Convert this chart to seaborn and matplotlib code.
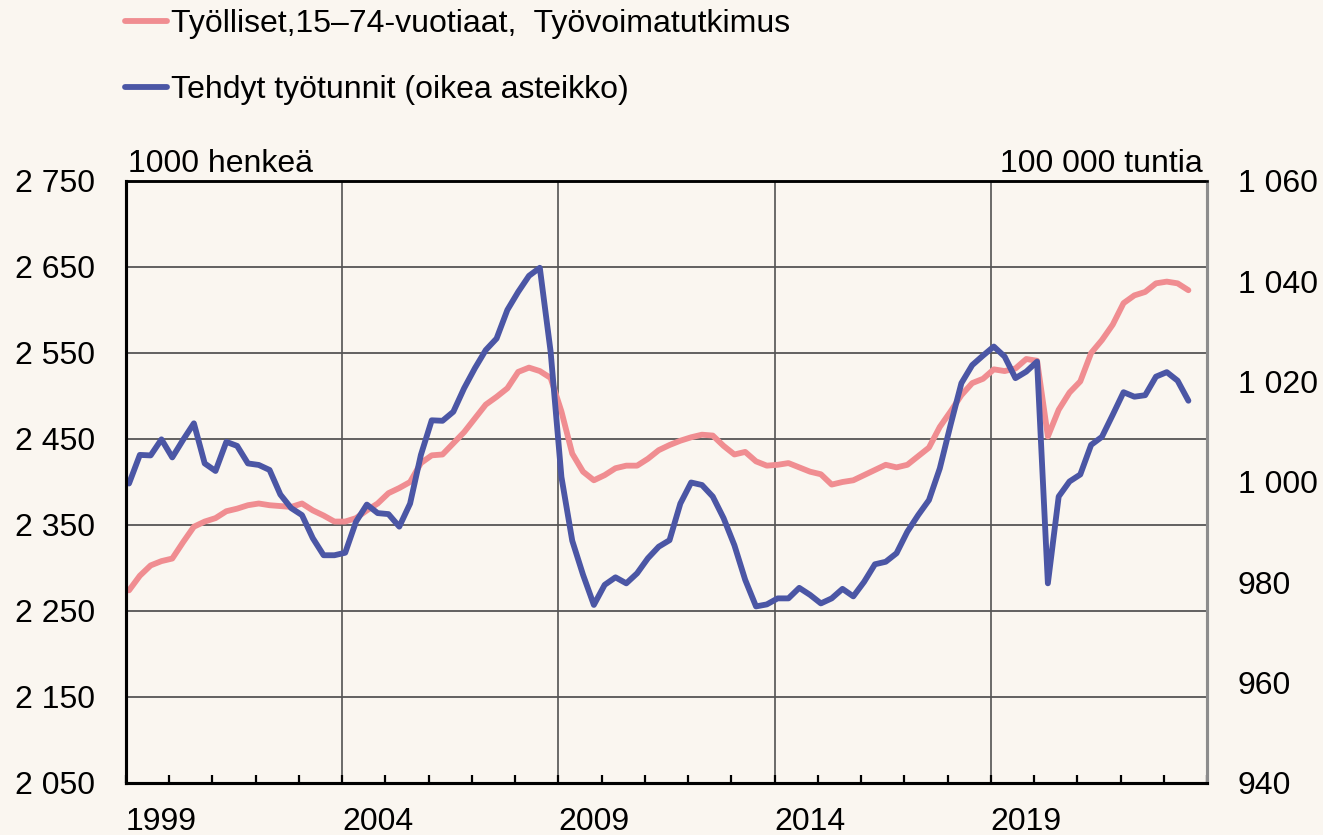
import numpy as np
import pandas as pd
import matplotlib
matplotlib.use("Agg")
import matplotlib.pyplot as plt
import seaborn as sns
from matplotlib.ticker import FuncFormatter, FixedLocator, MultipleLocator

# ---------------- data ----------------
quarters = [f"{y}Q{q}" for y in range(1999, 2024) for q in range(1, 5)][:99]

employed = [
    2274, 2291, 2303, 2308, 2311, 2330, 2348, 2354, 2358, 2366,
    2369, 2373, 2375, 2373, 2372, 2371, 2375, 2367, 2361, 2354,
    2354, 2358, 2367, 2375, 2387, 2393, 2400, 2422, 2431, 2432,
    2445, 2458, 2474, 2490, 2499, 2509, 2528, 2533, 2529, 2521,
    2482, 2433, 2412, 2402, 2408, 2416, 2419, 2419, 2427, 2437,
    2443, 2448, 2452, 2455, 2454, 2442, 2432, 2435, 2424, 2419,
    2420, 2422, 2417, 2412, 2409, 2397, 2400, 2402, 2408, 2414,
    2420, 2417, 2420, 2430, 2440, 2464, 2482, 2501, 2515, 2520,
    2531, 2529, 2532, 2543, 2541, 2453, 2484, 2504, 2517, 2550,
    2565, 2583, 2608, 2617, 2621, 2631, 2633, 2631, 2623,
]

hours = [
    999.7, 1005.4, 1005.3, 1008.5, 1004.9, 1008.4, 1011.7, 1003.7, 1002.2, 1008.0,
    1007.2, 1003.7, 1003.4, 1002.4, 997.5, 994.8, 993.4, 988.8, 985.4, 985.4,
    985.9, 992.1, 995.5, 993.8, 993.6, 991.1, 995.7, 1005.4, 1012.3, 1012.2,
    1014.0, 1018.7, 1022.7, 1026.3, 1028.6, 1034.3, 1037.9, 1041.1, 1042.7, 1026.0,
    1001.0, 988.3, 981.5, 975.5, 979.5, 981.0, 979.8, 981.8, 984.8, 987.1,
    988.4, 995.7, 999.9, 999.4, 997.1, 992.8, 987.4, 980.5, 975.2, 975.6,
    976.8, 976.8, 978.9, 977.5, 975.8, 976.8, 978.7, 977.2, 980.1, 983.6,
    984.1, 985.8, 990.1, 993.4, 996.4, 1002.7, 1011.4, 1019.7, 1023.3, 1025.2,
    1027.0, 1025.0, 1020.7, 1022.0, 1024.0, 979.8, 997.1, 1000.1, 1001.5, 1007.4,
    1009.0, 1013.4, 1017.9, 1017.0, 1017.3, 1021.0, 1021.9, 1020.2, 1016.2,
]

series_labels = ["Työlliset,15–74-vuotiaat,  Työvoimatutkimus",
                 "Tehdyt työtunnit (oikea asteikko)"]
left_ticks = [2050, 2150, 2250, 2350, 2450, 2550, 2650, 2750]
right_ticks = [940, 960, 980, 1000, 1020, 1040, 1060]
year_labels = [1999, 2004, 2009, 2014, 2019]
left_unit = "1000 henkeä"
right_unit = "100 000 tuntia"

# ---------------- style ----------------
BG = "#FAF6F0"
PINK = "#F08D91"
BLUE = "#4B56A5"
FS = 23

sns.set_theme(style="white")
plt.rcParams["font.family"] = ["Liberation Sans", "DejaVu Sans"]
plt.rcParams["text.color"] = "black"
plt.rcParams["xtick.color"] = "black"
plt.rcParams["ytick.color"] = "black"
plt.rcParams["axes.labelcolor"] = "black"

xpos = [int(q[:4]) + (int(q[-1]) - 1) / 4 + 0.07 for q in quarters]
df = pd.DataFrame({"x": xpos, "employed": employed, "hours": hours})

fig = plt.figure(figsize=(13.23, 8.35), dpi=100, facecolor=BG)
ax = fig.add_axes([126 / 1323, 1 - 783 / 835, (1207 - 126) / 1323, (783 - 181) / 835])
ax.set_facecolor(BG)

sns.lineplot(data=df, x="x", y="employed", ax=ax, color=PINK, lw=4.2,
             label=series_labels[0], legend=False)
ax2 = ax.twinx()
sns.lineplot(data=df, x="x", y="hours", ax=ax2, color=BLUE, lw=4.2,
             label=series_labels[1], legend=False)

ax.set_xlim(1999, 2024)
ax.set_ylim(2050, 2750)
ax2.set_ylim(940, 1060)

fmt = FuncFormatter(lambda v, p: f"{int(round(v)):,}".replace(",", " "))
ax.yaxis.set_major_locator(FixedLocator(left_ticks))
ax.yaxis.set_major_formatter(fmt)
ax2.yaxis.set_major_locator(FixedLocator(right_ticks))
ax2.yaxis.set_major_formatter(fmt)

ax.xaxis.set_major_locator(FixedLocator(year_labels))
ax.xaxis.set_minor_locator(MultipleLocator(1))
ax.set_xticklabels([str(y) for y in year_labels])
for lab in ax.get_xticklabels():
    lab.set_ha("left")

ax.set_xlabel("")
ax.set_ylabel("")
ax2.set_ylabel("")

ax.grid(axis="y", color="#555555", lw=1.3)
ax.grid(axis="x", which="major", color="#444444", lw=1.1)
ax.set_axisbelow(True)

ax.tick_params(axis="y", length=0, pad=22, labelsize=FS, colors="black")
ax2.tick_params(axis="y", length=0, pad=22, labelsize=FS, colors="black")
ax.tick_params(axis="x", which="both", direction="in", length=6, width=1.6,
               color="black", top=False, bottom=True, pad=17, labelsize=FS,
               labelcolor="black")
ax.tick_params(axis="x", which="minor", labelbottom=False)

for a in (ax, ax2):
    a.spines["left"].set_color("black")
    a.spines["left"].set_linewidth(2.2)
    a.spines["bottom"].set_color("black")
    a.spines["bottom"].set_linewidth(2.2)
    a.spines["top"].set_color("black")
    a.spines["top"].set_linewidth(1.8)
    a.spines["right"].set_color("#8C8C8C")
    a.spines["right"].set_linewidth(2.2)

ax.text(0.002, 1 + 9 / 602, left_unit, transform=ax.transAxes, ha="left",
        va="baseline", fontsize=FS, color="black")
ax.text(1 - 4 / 1081, 1 + 9 / 602, right_unit, transform=ax.transAxes, ha="right",
        va="baseline", fontsize=FS, color="black")

h1, l1 = ax.get_legend_handles_labels()
h2, l2 = ax2.get_legend_handles_labels()
leg = fig.legend(h1 + h2, l1 + l2, loc="upper left",
                 bbox_to_anchor=(125 / 1323, 1 - 9 / 835),
                 frameon=False, fontsize=FS, handlelength=1.3, handletextpad=0.15,
                 labelspacing=1.12, borderpad=0, borderaxespad=0)
for t in leg.get_texts():
    t.set_color("black")

fig.savefig("out.png", dpi=100, facecolor=BG)
